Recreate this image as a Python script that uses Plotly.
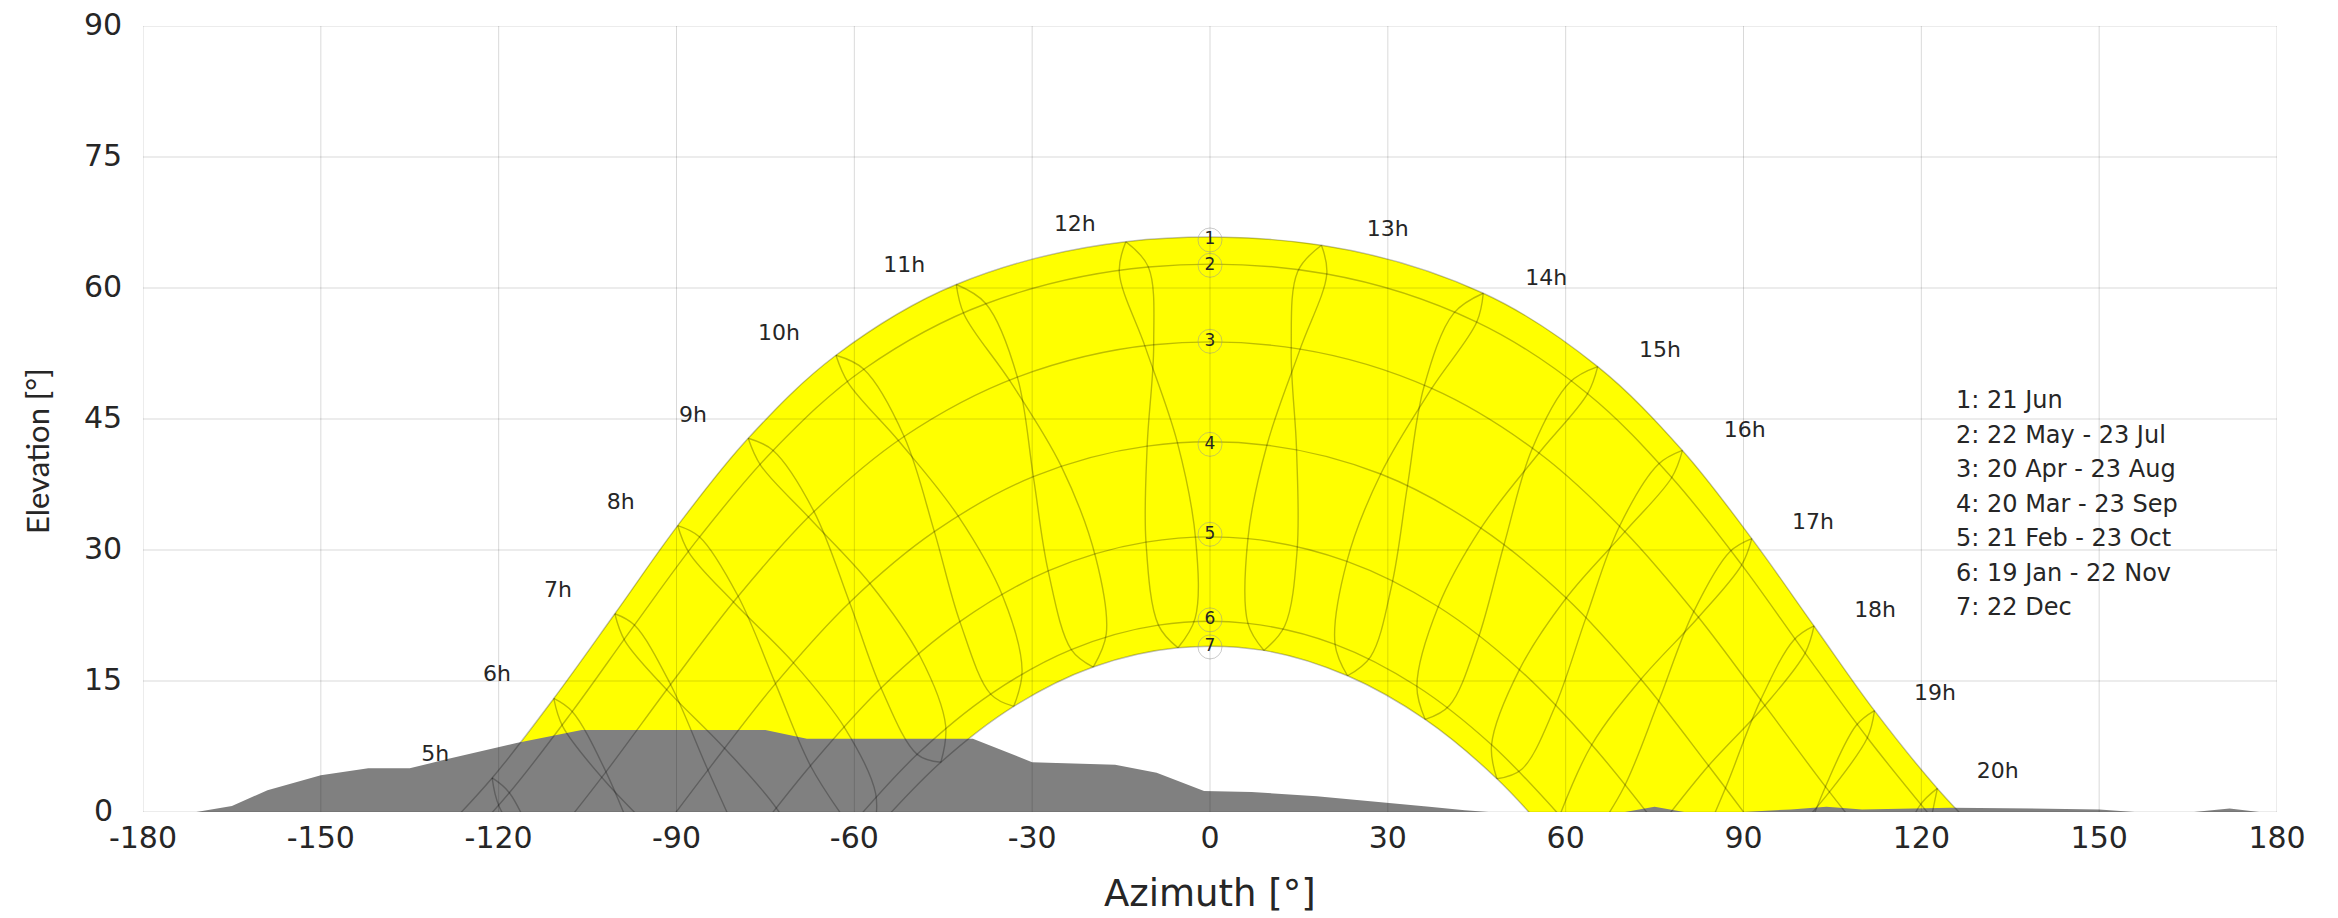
import plotly.graph_objects as go

# ---------------- data ----------------
# clock hours at which the sun position is given for each date
clock_hours = [4, 5, 6, 7, 8, 9, 10, 11, 12, 13, 14, 15, 16, 17, 18, 19, 20, 21]

az_jun21 = [-132.2, -121.1, -110.7, -100.4, -89.8, -77.9, -63.1, -42.8, -14.2, 18.8, 46.1, 65.4, 79.7, 91.4, 101.9, 112.1, 122.7, 133.9]
el_jun21 = [-4.2, 3.9, 13.0, 22.7, 32.8, 42.8, 52.3, 60.4, 65.3, 64.9, 59.4, 51.0, 41.4, 31.3, 21.3, 11.6, 2.7, -5.3]

az_may22 = [-129.5, -118.2, -107.6, -97.1, -86.1, -73.7, -58.4, -37.8, -10.4, 19.7, 45.0, 63.7, 77.9, 89.7, 100.4, 110.9, 121.7, 133.3]
el_may22 = [-6.2, 2.2, 11.5, 21.4, 31.5, 41.4, 50.7, 58.2, 62.4, 61.6, 56.1, 47.9, 38.3, 28.3, 18.2, 8.5, -0.6, -8.6]

az_jul23 = [-131.4, -119.9, -109.2, -98.7, -87.9, -75.8, -61.0, -41.5, -15.3, 14.8, 41.1, 60.7, 75.6, 87.7, 98.5, 109.0, 119.7, 131.2]
el_jul23 = [-7.6, 0.6, 9.8, 19.6, 29.7, 39.7, 49.1, 57.0, 61.8, 61.9, 57.1, 49.2, 39.8, 29.8, 19.7, 9.9, 0.7, -7.5]

az_apr20 = [-124.9, -113.0, -101.9, -91.0, -79.6, -66.8, -51.6, -32.5, -9.5, 15.2, 37.4, 55.5, 70.0, 82.4, 93.6, 104.5, 115.7, None]
el_apr20 = [-13.9, -5.0, 4.6, 14.6, 24.7, 34.4, 43.0, 49.8, 53.5, 53.0, 48.5, 41.1, 32.1, 22.3, 12.2, 2.3, -7.2, None]

az_aug23 = [None, -113.6, -102.4, -91.5, -80.2, -67.5, -52.4, -33.7, -10.9, 13.7, 36.1, 54.3, 69.0, 81.5, 92.8, 103.7, 114.9, None]
el_aug23 = [None, -5.8, 3.8, 13.9, 23.9, 33.6, 42.4, 49.3, 53.2, 52.9, 48.7, 41.5, 32.6, 22.8, 12.7, 2.7, -6.8, None]

az_mar20 = [None, None, -95.9, -84.7, -73.3, -60.8, -46.5, -29.8, -10.6, 9.6, 28.8, 45.7, 60.1, 72.7, 84.1, 95.3, None, None]
el_mar20 = [None, None, -5.3, 4.8, 14.7, 24.0, 32.1, 38.4, 41.9, 42.0, 38.7, 32.5, 24.5, 15.2, 5.3, -4.8, None, None]

az_sep23 = [None, -104.3, -93.0, -81.9, -70.3, -57.4, -42.5, -25.1, -5.5, 14.6, 33.3, 49.6, 63.4, 75.7, 87.0, 98.1, None, None]
el_sep23 = [None, -12.7, -2.8, 7.3, 17.1, 26.2, 33.9, 39.6, 42.3, 41.5, 37.3, 30.6, 22.2, 12.7, 2.8, -7.3, None, None]

az_feb21 = [None, None, -89.5, -78.6, -67.4, -55.5, -42.2, -27.3, -10.8, 6.4, 23.1, 38.5, 52.2, 64.4, 75.7, 86.6, None, None]
el_feb21 = [None, None, -14.4, -4.3, 5.3, 14.2, 21.8, 27.6, 30.9, 31.3, 28.7, 23.5, 16.3, 7.7, -1.8, -11.8, None, None]

az_oct23 = [None, -94.9, -83.8, -72.9, -61.5, -48.9, -34.9, -19.3, -2.4, 14.7, 30.7, 45.2, 58.1, 69.8, 80.8, 91.8, None, None]
el_oct23 = [None, -19.8, -9.7, 0.2, 9.5, 17.8, 24.6, 29.2, 31.1, 30.0, 26.1, 19.8, 11.9, 2.8, -6.9, -17.0, None, None]

az_jan19 = [None, None, None, -71.4, -60.7, -49.4, -37.0, -23.4, -8.7, 6.4, 21.1, 34.9, 47.5, 59.0, 69.7, 80.2, None, None]
el_jan19 = [None, None, None, -11.0, -1.7, 6.6, 13.5, 18.6, 21.4, 21.6, 19.2, 14.4, 7.7, -0.4, -9.5, -19.2, None, None]

az_nov22 = [None, None, -77.8, -67.3, -56.4, -44.6, -31.7, -17.5, -2.5, 12.6, 27.1, 40.4, 52.6, 63.8, 74.3, None, None, None]
el_nov22 = [None, None, -16.4, -6.8, 2.1, 9.9, 16.2, 20.4, 22.2, 21.3, 17.8, 12.2, 4.9, -3.7, -13.1, None, None, None]

az_dec22 = [None, None, None, -67.3, -56.7, -45.4, -33.1, -19.7, -5.4, 9.1, 23.2, 36.3, 48.4, 59.5, 69.9, None, None, None]
el_dec22 = [None, None, None, -11.1, -2.2, 5.7, 12.1, 16.6, 18.8, 18.5, 15.6, 10.6, 3.8, -4.4, -13.5, None, None, None]

# horizon profile (terrain)
horizon_az = [-180, -171, -165, -159, -150, -142, -135, -129, -117, -106, -75, -68, -40, -30, -16, -9, -1, 7, 18, 28, 37, 43, 47, 70, 75, 80, 90, 98, 104, 110, 125, 150, 156, 166, 172, 177, 180]
horizon_el = [0, 0, 0.7, 2.5, 4.2, 5.0, 5.0, 6.0, 7.9, 9.4, 9.4, 8.4, 8.4, 5.7, 5.4, 4.5, 2.4, 2.3, 1.8, 1.2, 0.6, 0.2, 0, 0, 0.6, 0, 0, 0.3, 0.6, 0.3, 0.5, 0.3, 0, 0, 0.4, 0, 0]

hour_labels = ["5h", "6h", "7h", "8h", "9h", "10h", "11h", "12h", "13h", "14h", "15h", "16h", "17h", "18h", "19h", "20h"]
label_az = [-130.7, -120.3, -110.0, -99.4, -87.2, -72.7, -51.6, -22.8, 30.0, 56.7, 75.9, 90.2, 101.7, 112.2, 122.3, 132.9]
label_el = [6.5, 15.6, 25.3, 35.3, 45.3, 54.7, 62.5, 67.2, 66.6, 61.0, 52.7, 43.6, 33.0, 23.0, 13.4, 4.5]

curve_numbers = ["1", "2", "3", "4", "5", "6", "7"]
number_az = [0, 0, 0, 0, 0, 0, 0]
number_el = [65.5, 62.6, 53.9, 42.1, 31.8, 22.0, 18.9]
legend_lines = ["1: 21 Jun", "2: 22 May - 23 Jul", "3: 20 Apr - 23 Aug", "4: 20 Mar - 23 Sep",
                "5: 21 Feb - 23 Oct", "6: 19 Jan - 22 Nov", "7: 22 Dec"]

x_ticks = [-180, -150, -120, -90, -60, -30, 0, 30, 60, 90, 120, 150, 180]
x_tick_text = ["-180", "-150", "-120", "-90", "-60", "-30", "0", "30", "60", "90", "120", "150", "180"]
y_ticks = [0, 15, 30, 45, 60, 75, 90]
y_tick_text = ["0", "15", "30", "45", "60", "75", "90"]

# ---------------- styling ----------------
FONT = "DejaVu Sans"
TXT = "#262626"
LINE = "rgba(0,0,0,0.26)"
GRID = "rgba(0,0,0,0.15)"
PLOT_L, PLOT_R, PLOT_T, PLOT_B = 143, 2277, 26, 812   # plot area in page pixels

# date curves (one per legend entry) and the two analemma branches through the year
day_curves = [(az_jun21, el_jun21), (az_may22, el_may22), (az_apr20, el_apr20), (az_mar20, el_mar20),
              (az_feb21, el_feb21), (az_jan19, el_jan19), (az_dec22, el_dec22)]
branch_first = [(az_jun21, el_jun21), (az_may22, el_may22), (az_apr20, el_apr20), (az_mar20, el_mar20),
                (az_feb21, el_feb21), (az_jan19, el_jan19), (az_dec22, el_dec22)]
branch_second = [(az_jun21, el_jun21), (az_jul23, el_jul23), (az_aug23, el_aug23), (az_sep23, el_sep23),
                 (az_oct23, el_oct23), (az_nov22, el_nov22), (az_dec22, el_dec22)]


def day_curve(a, e):
    idx = [i for i in range(len(e)) if e[i] is not None]
    up = [i for i in idx if e[i] > 0]
    lo = max(up[0] - 1, idx[0])
    hi = min(up[-1] + 1, idx[-1])
    return a[lo:hi + 1], e[lo:hi + 1]


def hour_line(branch, k):
    xs, ys = [], []
    for a, e in branch:
        if e[k] is None:
            break
        xs.append(a[k])
        ys.append(e[k])
        if e[k] < 0:
            break
    return xs, ys


def px_x(p):
    return (p - PLOT_L) / (PLOT_R - PLOT_L)


def px_y(p):
    return (PLOT_B - p) / (PLOT_B - PLOT_T)


fig = go.Figure()
sx, sy = day_curve(az_jun21, el_jun21)
fig.add_trace(go.Scatter(x=sx, y=sy, mode="lines", line=dict(width=0, shape="spline"),
                         fill="tozeroy", fillcolor="#ffff00", hoverinfo="skip"))
wx, wy = day_curve(az_dec22, el_dec22)
fig.add_trace(go.Scatter(x=wx, y=wy, mode="lines", line=dict(width=0, shape="spline"),
                         fill="tozeroy", fillcolor="#ffffff", hoverinfo="skip"))
fig.add_trace(go.Scatter(x=horizon_az, y=horizon_el, mode="lines", line=dict(width=0),
                         fill="tozeroy", fillcolor="#808080", hoverinfo="skip"))
for a, e in day_curves:
    cx, cy = day_curve(a, e)
    fig.add_trace(go.Scatter(x=cx, y=cy, mode="lines", line=dict(color=LINE, width=1.4, shape="spline"),
                             hoverinfo="skip"))
for k in range(len(clock_hours)):
    for br in (branch_first, branch_second):
        hx, hy = hour_line(br, k)
        if len(hy) > 1 and hy[0] > 0:
            fig.add_trace(go.Scatter(x=hx, y=hy, mode="lines",
                                     line=dict(color=LINE, width=1.4, shape="spline"), hoverinfo="skip"))

fig.add_trace(go.Scatter(x=number_az, y=number_el, mode="markers+text", text=curve_numbers,
                         textposition="middle center",
                         marker=dict(size=24, color="rgba(0,0,0,0)",
                                     line=dict(color="rgba(150,150,150,0.5)", width=1)),
                         textfont=dict(family=FONT, size=17, color=TXT), hoverinfo="skip"))
fig.add_trace(go.Scatter(x=label_az, y=label_el, mode="text", text=hour_labels, textposition="middle center",
                         textfont=dict(family=FONT, size=22, color=TXT), hoverinfo="skip"))

shapes = []
for xv in x_ticks:
    shapes.append(dict(type="line", xref="x", yref="y", x0=xv, x1=xv, y0=0, y1=90,
                       line=dict(color=GRID, width=1), layer="above"))
for yv in y_ticks:
    shapes.append(dict(type="line", xref="x", yref="y", x0=-180, x1=180, y0=yv, y1=yv,
                       line=dict(color=GRID, width=1), layer="above"))

annotations = []
# y tick labels, centred like the original
for yv, t in zip(y_ticks, y_tick_text):
    annotations.append(dict(x=px_x(103), y=yv, xref="paper", yref="y", text=t, showarrow=False,
                            xanchor="center", yanchor="middle", yshift=2,
                            font=dict(family=FONT, size=30, color=TXT)))
for i, t in enumerate(legend_lines):
    annotations.append(dict(x=px_x(1954), y=px_y(400 + 34.5 * i), xref="paper", yref="paper",
                            text=t, showarrow=False, xanchor="left", yanchor="middle",
                            font=dict(family=FONT, size=24, color=TXT)))
annotations.append(dict(x=0.5, y=px_y(893), xref="paper", yref="paper", text="Azimuth [°]",
                        showarrow=False, xanchor="center", yanchor="middle",
                        font=dict(family=FONT, size=37, color=TXT)))
annotations.append(dict(x=px_x(37), y=px_y(451), xref="paper", yref="paper",
                        text="Elevation [°]", showarrow=False, xanchor="center", yanchor="middle",
                        textangle=-90, font=dict(family="Lato", size=31, color=TXT)))

fig.update_layout(
    width=2338, height=918, margin=dict(l=PLOT_L, r=2338 - PLOT_R, t=PLOT_T, b=918 - PLOT_B),
    paper_bgcolor="white", plot_bgcolor="white", showlegend=False,
    shapes=shapes, annotations=annotations,
    xaxis=dict(range=[-180, 180], tickvals=x_ticks, ticktext=x_tick_text, showgrid=False, zeroline=False,
               showline=False, tickfont=dict(family=FONT, size=30, color=TXT), ticks="",
               ticklabelstandoff=5, fixedrange=True),
    yaxis=dict(range=[0, 90], tickvals=y_ticks, showticklabels=False, showgrid=False, zeroline=False,
               showline=False, ticks="", fixedrange=True),
)
fig.write_html("out.html", config={"displayModeBar": False, "staticPlot": True},
               post_script=["document.body.style.margin='0px';document.body.style.overflow='hidden';"])
